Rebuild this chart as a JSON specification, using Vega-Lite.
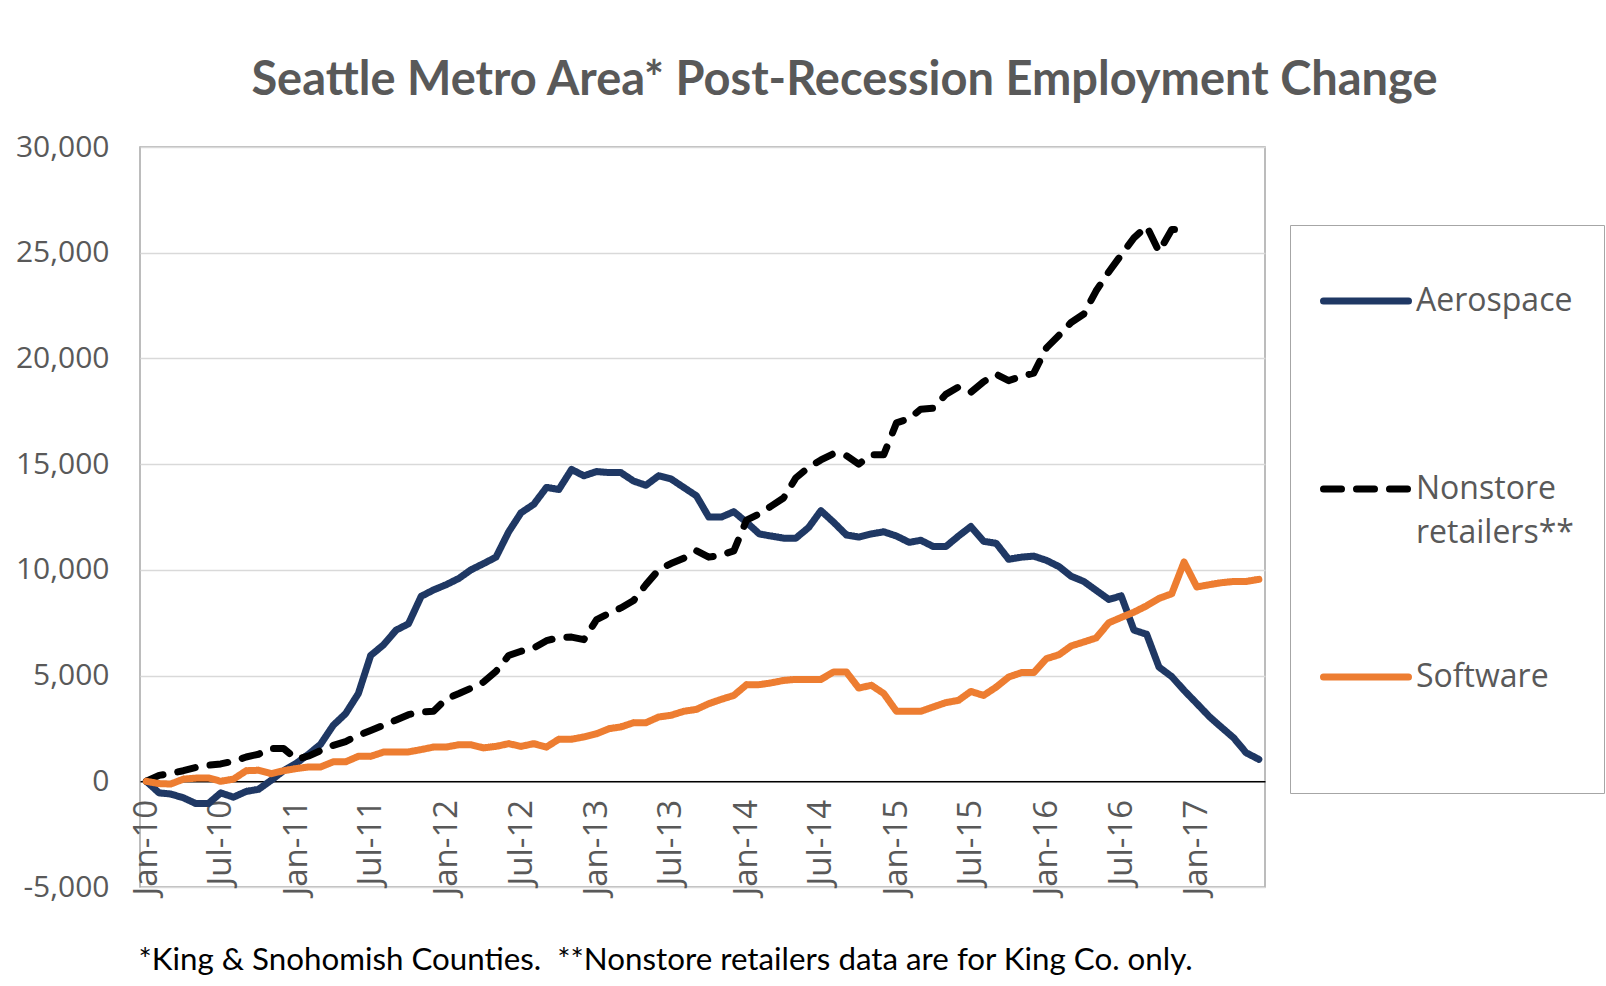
{
  "$schema": "https://vega.github.io/schema/vega-lite/v6.json",
  "width": 1125,
  "height": 740,
  "autosize": {"type": "none"},
  "padding": {"left": 140, "top": 147, "right": 341, "bottom": 99},
  "background": "white",
  "title": {
    "text": "Seattle Metro Area* Post-Recession Employment Change",
    "font": "Lato",
    "fontSize": 47,
    "fontWeight": "bold",
    "color": "#595959",
    "anchor": "middle",
    "frame": "group",
    "dx": 142,
    "offset": 27
  },
  "data": {"values": [
    {"date":"2010-01-01","series":"Aerospace","value":0},
    {"date":"2010-02-01","series":"Aerospace","value":-550},
    {"date":"2010-03-01","series":"Aerospace","value":-600},
    {"date":"2010-04-01","series":"Aerospace","value":-780},
    {"date":"2010-05-01","series":"Aerospace","value":-1050},
    {"date":"2010-06-01","series":"Aerospace","value":-1050},
    {"date":"2010-07-01","series":"Aerospace","value":-550},
    {"date":"2010-08-01","series":"Aerospace","value":-750},
    {"date":"2010-09-01","series":"Aerospace","value":-480},
    {"date":"2010-10-01","series":"Aerospace","value":-380},
    {"date":"2010-11-01","series":"Aerospace","value":50},
    {"date":"2010-12-01","series":"Aerospace","value":500},
    {"date":"2011-01-01","series":"Aerospace","value":850},
    {"date":"2011-02-01","series":"Aerospace","value":1300},
    {"date":"2011-03-01","series":"Aerospace","value":1750},
    {"date":"2011-04-01","series":"Aerospace","value":2650},
    {"date":"2011-05-01","series":"Aerospace","value":3200},
    {"date":"2011-06-01","series":"Aerospace","value":4150},
    {"date":"2011-07-01","series":"Aerospace","value":5950},
    {"date":"2011-08-01","series":"Aerospace","value":6450},
    {"date":"2011-09-01","series":"Aerospace","value":7150},
    {"date":"2011-10-01","series":"Aerospace","value":7450},
    {"date":"2011-11-01","series":"Aerospace","value":8750},
    {"date":"2011-12-01","series":"Aerospace","value":9050},
    {"date":"2012-01-01","series":"Aerospace","value":9300},
    {"date":"2012-02-01","series":"Aerospace","value":9600},
    {"date":"2012-03-01","series":"Aerospace","value":10000},
    {"date":"2012-04-01","series":"Aerospace","value":10300},
    {"date":"2012-05-01","series":"Aerospace","value":10600},
    {"date":"2012-06-01","series":"Aerospace","value":11800},
    {"date":"2012-07-01","series":"Aerospace","value":12700},
    {"date":"2012-08-01","series":"Aerospace","value":13100},
    {"date":"2012-09-01","series":"Aerospace","value":13900},
    {"date":"2012-10-01","series":"Aerospace","value":13800},
    {"date":"2012-11-01","series":"Aerospace","value":14750},
    {"date":"2012-12-01","series":"Aerospace","value":14450},
    {"date":"2013-01-01","series":"Aerospace","value":14650},
    {"date":"2013-02-01","series":"Aerospace","value":14600},
    {"date":"2013-03-01","series":"Aerospace","value":14600},
    {"date":"2013-04-01","series":"Aerospace","value":14200},
    {"date":"2013-05-01","series":"Aerospace","value":14000},
    {"date":"2013-06-01","series":"Aerospace","value":14450},
    {"date":"2013-07-01","series":"Aerospace","value":14300},
    {"date":"2013-08-01","series":"Aerospace","value":13900},
    {"date":"2013-09-01","series":"Aerospace","value":13500},
    {"date":"2013-10-01","series":"Aerospace","value":12500},
    {"date":"2013-11-01","series":"Aerospace","value":12500},
    {"date":"2013-12-01","series":"Aerospace","value":12750},
    {"date":"2014-01-01","series":"Aerospace","value":12250},
    {"date":"2014-02-01","series":"Aerospace","value":11700},
    {"date":"2014-03-01","series":"Aerospace","value":11600},
    {"date":"2014-04-01","series":"Aerospace","value":11500},
    {"date":"2014-05-01","series":"Aerospace","value":11500},
    {"date":"2014-06-01","series":"Aerospace","value":12000},
    {"date":"2014-07-01","series":"Aerospace","value":12800},
    {"date":"2014-08-01","series":"Aerospace","value":12250},
    {"date":"2014-09-01","series":"Aerospace","value":11650},
    {"date":"2014-10-01","series":"Aerospace","value":11550},
    {"date":"2014-11-01","series":"Aerospace","value":11700},
    {"date":"2014-12-01","series":"Aerospace","value":11800},
    {"date":"2015-01-01","series":"Aerospace","value":11600},
    {"date":"2015-02-01","series":"Aerospace","value":11300},
    {"date":"2015-03-01","series":"Aerospace","value":11400},
    {"date":"2015-04-01","series":"Aerospace","value":11100},
    {"date":"2015-05-01","series":"Aerospace","value":11100},
    {"date":"2015-06-01","series":"Aerospace","value":11600},
    {"date":"2015-07-01","series":"Aerospace","value":12050},
    {"date":"2015-08-01","series":"Aerospace","value":11350},
    {"date":"2015-09-01","series":"Aerospace","value":11250},
    {"date":"2015-10-01","series":"Aerospace","value":10500},
    {"date":"2015-11-01","series":"Aerospace","value":10600},
    {"date":"2015-12-01","series":"Aerospace","value":10650},
    {"date":"2016-01-01","series":"Aerospace","value":10450},
    {"date":"2016-02-01","series":"Aerospace","value":10150},
    {"date":"2016-03-01","series":"Aerospace","value":9700},
    {"date":"2016-04-01","series":"Aerospace","value":9450},
    {"date":"2016-05-01","series":"Aerospace","value":9030},
    {"date":"2016-06-01","series":"Aerospace","value":8600},
    {"date":"2016-07-01","series":"Aerospace","value":8770},
    {"date":"2016-08-01","series":"Aerospace","value":7150},
    {"date":"2016-09-01","series":"Aerospace","value":6950},
    {"date":"2016-10-01","series":"Aerospace","value":5400},
    {"date":"2016-11-01","series":"Aerospace","value":4950},
    {"date":"2016-12-01","series":"Aerospace","value":4300},
    {"date":"2017-01-01","series":"Aerospace","value":3680},
    {"date":"2017-02-01","series":"Aerospace","value":3050},
    {"date":"2017-03-01","series":"Aerospace","value":2570},
    {"date":"2017-04-01","series":"Aerospace","value":2050},
    {"date":"2017-05-01","series":"Aerospace","value":1350},
    {"date":"2017-06-01","series":"Aerospace","value":1040},
    {"date":"2010-01-01","series":"Nonstore retailers**","value":0},
    {"date":"2010-02-01","series":"Nonstore retailers**","value":280},
    {"date":"2010-03-01","series":"Nonstore retailers**","value":370},
    {"date":"2010-04-01","series":"Nonstore retailers**","value":500},
    {"date":"2010-05-01","series":"Nonstore retailers**","value":650},
    {"date":"2010-06-01","series":"Nonstore retailers**","value":760},
    {"date":"2010-07-01","series":"Nonstore retailers**","value":820},
    {"date":"2010-08-01","series":"Nonstore retailers**","value":950},
    {"date":"2010-09-01","series":"Nonstore retailers**","value":1150},
    {"date":"2010-10-01","series":"Nonstore retailers**","value":1280},
    {"date":"2010-11-01","series":"Nonstore retailers**","value":1550},
    {"date":"2010-12-01","series":"Nonstore retailers**","value":1550},
    {"date":"2011-01-01","series":"Nonstore retailers**","value":1050},
    {"date":"2011-02-01","series":"Nonstore retailers**","value":1200},
    {"date":"2011-03-01","series":"Nonstore retailers**","value":1450},
    {"date":"2011-04-01","series":"Nonstore retailers**","value":1700},
    {"date":"2011-05-01","series":"Nonstore retailers**","value":1880},
    {"date":"2011-06-01","series":"Nonstore retailers**","value":2170},
    {"date":"2011-07-01","series":"Nonstore retailers**","value":2400},
    {"date":"2011-08-01","series":"Nonstore retailers**","value":2650},
    {"date":"2011-09-01","series":"Nonstore retailers**","value":2900},
    {"date":"2011-10-01","series":"Nonstore retailers**","value":3150},
    {"date":"2011-11-01","series":"Nonstore retailers**","value":3280},
    {"date":"2011-12-01","series":"Nonstore retailers**","value":3310},
    {"date":"2012-01-01","series":"Nonstore retailers**","value":3900},
    {"date":"2012-02-01","series":"Nonstore retailers**","value":4150},
    {"date":"2012-03-01","series":"Nonstore retailers**","value":4400},
    {"date":"2012-04-01","series":"Nonstore retailers**","value":4700},
    {"date":"2012-05-01","series":"Nonstore retailers**","value":5200},
    {"date":"2012-06-01","series":"Nonstore retailers**","value":5950},
    {"date":"2012-07-01","series":"Nonstore retailers**","value":6150},
    {"date":"2012-08-01","series":"Nonstore retailers**","value":6300},
    {"date":"2012-09-01","series":"Nonstore retailers**","value":6650},
    {"date":"2012-10-01","series":"Nonstore retailers**","value":6800},
    {"date":"2012-11-01","series":"Nonstore retailers**","value":6820},
    {"date":"2012-12-01","series":"Nonstore retailers**","value":6700},
    {"date":"2013-01-01","series":"Nonstore retailers**","value":7650},
    {"date":"2013-02-01","series":"Nonstore retailers**","value":7950},
    {"date":"2013-03-01","series":"Nonstore retailers**","value":8200},
    {"date":"2013-04-01","series":"Nonstore retailers**","value":8550},
    {"date":"2013-05-01","series":"Nonstore retailers**","value":9300},
    {"date":"2013-06-01","series":"Nonstore retailers**","value":10000},
    {"date":"2013-07-01","series":"Nonstore retailers**","value":10300},
    {"date":"2013-08-01","series":"Nonstore retailers**","value":10550},
    {"date":"2013-09-01","series":"Nonstore retailers**","value":10900},
    {"date":"2013-10-01","series":"Nonstore retailers**","value":10600},
    {"date":"2013-11-01","series":"Nonstore retailers**","value":10700},
    {"date":"2013-12-01","series":"Nonstore retailers**","value":10900},
    {"date":"2014-01-01","series":"Nonstore retailers**","value":12350},
    {"date":"2014-02-01","series":"Nonstore retailers**","value":12650},
    {"date":"2014-03-01","series":"Nonstore retailers**","value":13000},
    {"date":"2014-04-01","series":"Nonstore retailers**","value":13400},
    {"date":"2014-05-01","series":"Nonstore retailers**","value":14350},
    {"date":"2014-06-01","series":"Nonstore retailers**","value":14850},
    {"date":"2014-07-01","series":"Nonstore retailers**","value":15200},
    {"date":"2014-08-01","series":"Nonstore retailers**","value":15500},
    {"date":"2014-09-01","series":"Nonstore retailers**","value":15400},
    {"date":"2014-10-01","series":"Nonstore retailers**","value":15000},
    {"date":"2014-11-01","series":"Nonstore retailers**","value":15450},
    {"date":"2014-12-01","series":"Nonstore retailers**","value":15450},
    {"date":"2015-01-01","series":"Nonstore retailers**","value":16950},
    {"date":"2015-02-01","series":"Nonstore retailers**","value":17150},
    {"date":"2015-03-01","series":"Nonstore retailers**","value":17600},
    {"date":"2015-04-01","series":"Nonstore retailers**","value":17650},
    {"date":"2015-05-01","series":"Nonstore retailers**","value":18300},
    {"date":"2015-06-01","series":"Nonstore retailers**","value":18650},
    {"date":"2015-07-01","series":"Nonstore retailers**","value":18400},
    {"date":"2015-08-01","series":"Nonstore retailers**","value":18900},
    {"date":"2015-09-01","series":"Nonstore retailers**","value":19250},
    {"date":"2015-10-01","series":"Nonstore retailers**","value":18950},
    {"date":"2015-11-01","series":"Nonstore retailers**","value":19150},
    {"date":"2015-12-01","series":"Nonstore retailers**","value":19300},
    {"date":"2016-01-01","series":"Nonstore retailers**","value":20500},
    {"date":"2016-02-01","series":"Nonstore retailers**","value":21100},
    {"date":"2016-03-01","series":"Nonstore retailers**","value":21700},
    {"date":"2016-04-01","series":"Nonstore retailers**","value":22100},
    {"date":"2016-05-01","series":"Nonstore retailers**","value":23200},
    {"date":"2016-06-01","series":"Nonstore retailers**","value":24100},
    {"date":"2016-07-01","series":"Nonstore retailers**","value":24900},
    {"date":"2016-08-01","series":"Nonstore retailers**","value":25700},
    {"date":"2016-09-01","series":"Nonstore retailers**","value":26250},
    {"date":"2016-10-01","series":"Nonstore retailers**","value":25050},
    {"date":"2016-11-01","series":"Nonstore retailers**","value":26100},
    {"date":"2016-12-01","series":"Nonstore retailers**","value":26100},
    {"date":"2010-01-01","series":"Software","value":0},
    {"date":"2010-02-01","series":"Software","value":-110},
    {"date":"2010-03-01","series":"Software","value":-130},
    {"date":"2010-04-01","series":"Software","value":100},
    {"date":"2010-05-01","series":"Software","value":150},
    {"date":"2010-06-01","series":"Software","value":160},
    {"date":"2010-07-01","series":"Software","value":0},
    {"date":"2010-08-01","series":"Software","value":100},
    {"date":"2010-09-01","series":"Software","value":500},
    {"date":"2010-10-01","series":"Software","value":520},
    {"date":"2010-11-01","series":"Software","value":360},
    {"date":"2010-12-01","series":"Software","value":500},
    {"date":"2011-01-01","series":"Software","value":600},
    {"date":"2011-02-01","series":"Software","value":680},
    {"date":"2011-03-01","series":"Software","value":680},
    {"date":"2011-04-01","series":"Software","value":920},
    {"date":"2011-05-01","series":"Software","value":920},
    {"date":"2011-06-01","series":"Software","value":1180},
    {"date":"2011-07-01","series":"Software","value":1180},
    {"date":"2011-08-01","series":"Software","value":1380},
    {"date":"2011-09-01","series":"Software","value":1390},
    {"date":"2011-10-01","series":"Software","value":1390},
    {"date":"2011-11-01","series":"Software","value":1500},
    {"date":"2011-12-01","series":"Software","value":1620},
    {"date":"2012-01-01","series":"Software","value":1620},
    {"date":"2012-02-01","series":"Software","value":1730},
    {"date":"2012-03-01","series":"Software","value":1730},
    {"date":"2012-04-01","series":"Software","value":1580},
    {"date":"2012-05-01","series":"Software","value":1650},
    {"date":"2012-06-01","series":"Software","value":1780},
    {"date":"2012-07-01","series":"Software","value":1650},
    {"date":"2012-08-01","series":"Software","value":1780},
    {"date":"2012-09-01","series":"Software","value":1620},
    {"date":"2012-10-01","series":"Software","value":1990},
    {"date":"2012-11-01","series":"Software","value":1990},
    {"date":"2012-12-01","series":"Software","value":2100},
    {"date":"2013-01-01","series":"Software","value":2250},
    {"date":"2013-02-01","series":"Software","value":2490},
    {"date":"2013-03-01","series":"Software","value":2570},
    {"date":"2013-04-01","series":"Software","value":2770},
    {"date":"2013-05-01","series":"Software","value":2770},
    {"date":"2013-06-01","series":"Software","value":3040},
    {"date":"2013-07-01","series":"Software","value":3120},
    {"date":"2013-08-01","series":"Software","value":3310},
    {"date":"2013-09-01","series":"Software","value":3400},
    {"date":"2013-10-01","series":"Software","value":3670},
    {"date":"2013-11-01","series":"Software","value":3880},
    {"date":"2013-12-01","series":"Software","value":4060},
    {"date":"2014-01-01","series":"Software","value":4570},
    {"date":"2014-02-01","series":"Software","value":4570},
    {"date":"2014-03-01","series":"Software","value":4650},
    {"date":"2014-04-01","series":"Software","value":4770},
    {"date":"2014-05-01","series":"Software","value":4820},
    {"date":"2014-06-01","series":"Software","value":4820},
    {"date":"2014-07-01","series":"Software","value":4820},
    {"date":"2014-08-01","series":"Software","value":5170},
    {"date":"2014-09-01","series":"Software","value":5170},
    {"date":"2014-10-01","series":"Software","value":4410},
    {"date":"2014-11-01","series":"Software","value":4540},
    {"date":"2014-12-01","series":"Software","value":4150},
    {"date":"2015-01-01","series":"Software","value":3310},
    {"date":"2015-02-01","series":"Software","value":3310},
    {"date":"2015-03-01","series":"Software","value":3310},
    {"date":"2015-04-01","series":"Software","value":3520},
    {"date":"2015-05-01","series":"Software","value":3720},
    {"date":"2015-06-01","series":"Software","value":3830},
    {"date":"2015-07-01","series":"Software","value":4250},
    {"date":"2015-08-01","series":"Software","value":4060},
    {"date":"2015-09-01","series":"Software","value":4460},
    {"date":"2015-10-01","series":"Software","value":4930},
    {"date":"2015-11-01","series":"Software","value":5140},
    {"date":"2015-12-01","series":"Software","value":5140},
    {"date":"2016-01-01","series":"Software","value":5800},
    {"date":"2016-02-01","series":"Software","value":5990},
    {"date":"2016-03-01","series":"Software","value":6400},
    {"date":"2016-04-01","series":"Software","value":6590},
    {"date":"2016-05-01","series":"Software","value":6780},
    {"date":"2016-06-01","series":"Software","value":7500},
    {"date":"2016-07-01","series":"Software","value":7750},
    {"date":"2016-08-01","series":"Software","value":8000},
    {"date":"2016-09-01","series":"Software","value":8300},
    {"date":"2016-10-01","series":"Software","value":8650},
    {"date":"2016-11-01","series":"Software","value":8870},
    {"date":"2016-12-01","series":"Software","value":10370},
    {"date":"2017-01-01","series":"Software","value":9190},
    {"date":"2017-02-01","series":"Software","value":9300},
    {"date":"2017-03-01","series":"Software","value":9390},
    {"date":"2017-04-01","series":"Software","value":9450},
    {"date":"2017-05-01","series":"Software","value":9450},
    {"date":"2017-06-01","series":"Software","value":9550}
  ]},
  "mark": {"type": "line", "strokeWidth": 7, "strokeCap": "round", "strokeJoin": "round"},
  "encoding": {
    "x": {
      "field": "date",
      "type": "temporal",
      "scale": {
        "type": "utc",
        "domain": [
          {"year": 2009, "month": 12, "date": 16, "hours": 12, "utc": true},
          {"year": 2017, "month": 6, "date": 16, "utc": true}
        ]
      },
      "axis": {
        "orient": "bottom",
        "offset": -105.71,
        "tickCount": {"interval": "month", "step": 6},
        "labelExpr": "(utcmonth(datum.value) == 0 ? 'Jan-' : 'Jul-') + substring(toString(utcyear(datum.value)), 2)",
        "labelAngle": 270,
        "labelFont": "Open Sans",
        "labelFontSize": 33,
        "labelColor": "#595959",
        "labelPadding": 18,
        "labelFlush": false,
        "labelOverlap": false,
        "ticks": false,
        "grid": false,
        "domainColor": "#000000",
        "domainWidth": 1.5,
        "title": "*King & Snohomish Counties.\u00a0 **Nonstore retailers data are for King Co. only.",
        "titleFont": "Lato",
        "titleFontSize": 31.3,
        "titleFontWeight": "normal",
        "titleColor": "#000000",
        "titleAnchor": "start",
        "titleAlign": "left",
        "titleBaseline": "alphabetic",
        "titleX": -2,
        "titleY": 188
      }
    },
    "y": {
      "field": "value",
      "type": "quantitative",
      "scale": {"domain": [-5000, 30000], "nice": false, "zero": false},
      "axis": {
        "values": [-5000, 0, 5000, 10000, 15000, 20000, 25000, 30000],
        "labelExpr": "datum.value == 0 ? '0' : (datum.value < 0 ? '-5,000' : toString(datum.value / 1000) + ',000')",
        "labelFont": "Open Sans",
        "labelFontSize": 30,
        "labelColor": "#595959",
        "labelPadding": 31,
        "ticks": false,
        "domain": false,
        "gridColor": "#d9d9d9",
        "gridWidth": 1.3,
        "title": null
      }
    },
    "color": {
      "field": "series",
      "type": "nominal",
      "scale": {
        "domain": ["Aerospace", "Nonstore retailers**", "Software"],
        "range": ["#1f3864", "#000000", "#ed7d31"]
      },
      "legend": {
        "orient": "none",
        "legendX": 1150,
        "legendY": 78,
        "title": " ",
        "titleOrient": "bottom",
        "titleFontSize": 14,
        "titlePadding": 12,
        "symbolType": "stroke",
        "symbolSize": 7225,
        "symbolStrokeWidth": 7,
        "labelFont": "Open Sans",
        "labelFontSize": 32,
        "labelColor": "#595959",
        "labelOffset": 4,
        "labelLimit": 400,
        "rowPadding": 82,
        "padding": 30,
        "strokeColor": "#a6a6a6",
        "fillColor": "white",
        "labelExpr": "datum.label == 'Nonstore retailers**' ? ['Nonstore', 'retailers**'] : [datum.label, ' ']",
        "encode": {
          "labels": {"update": {"lineHeight": {"value": 44}}},
          "symbols": {"update": {"strokeCap": {"value": "round"}}}
        }
      }
    },
    "strokeDash": {
      "field": "series",
      "type": "nominal",
      "scale": {
        "domain": ["Aerospace", "Nonstore retailers**", "Software"],
        "range": [[1, 0], [18, 15], [1, 0]]
      },
      "legend": {
        "orient": "none",
        "legendX": 1150,
        "legendY": 78,
        "title": " ",
        "titleOrient": "bottom",
        "titleFontSize": 14,
        "titlePadding": 12,
        "symbolType": "stroke",
        "symbolSize": 7225,
        "symbolStrokeWidth": 7,
        "labelFont": "Open Sans",
        "labelFontSize": 32,
        "labelColor": "#595959",
        "labelOffset": 4,
        "labelLimit": 400,
        "rowPadding": 82,
        "padding": 30,
        "strokeColor": "#a6a6a6",
        "fillColor": "white",
        "labelExpr": "datum.label == 'Nonstore retailers**' ? ['Nonstore', 'retailers**'] : [datum.label, ' ']",
        "encode": {
          "labels": {"update": {"lineHeight": {"value": 44}}},
          "symbols": {"update": {"strokeCap": {"value": "round"}}}
        }
      }
    }
  },
  "config": {
    "font": "Open Sans",
    "view": {"stroke": "#a6a6a6", "strokeWidth": 1.5}
  }
}
